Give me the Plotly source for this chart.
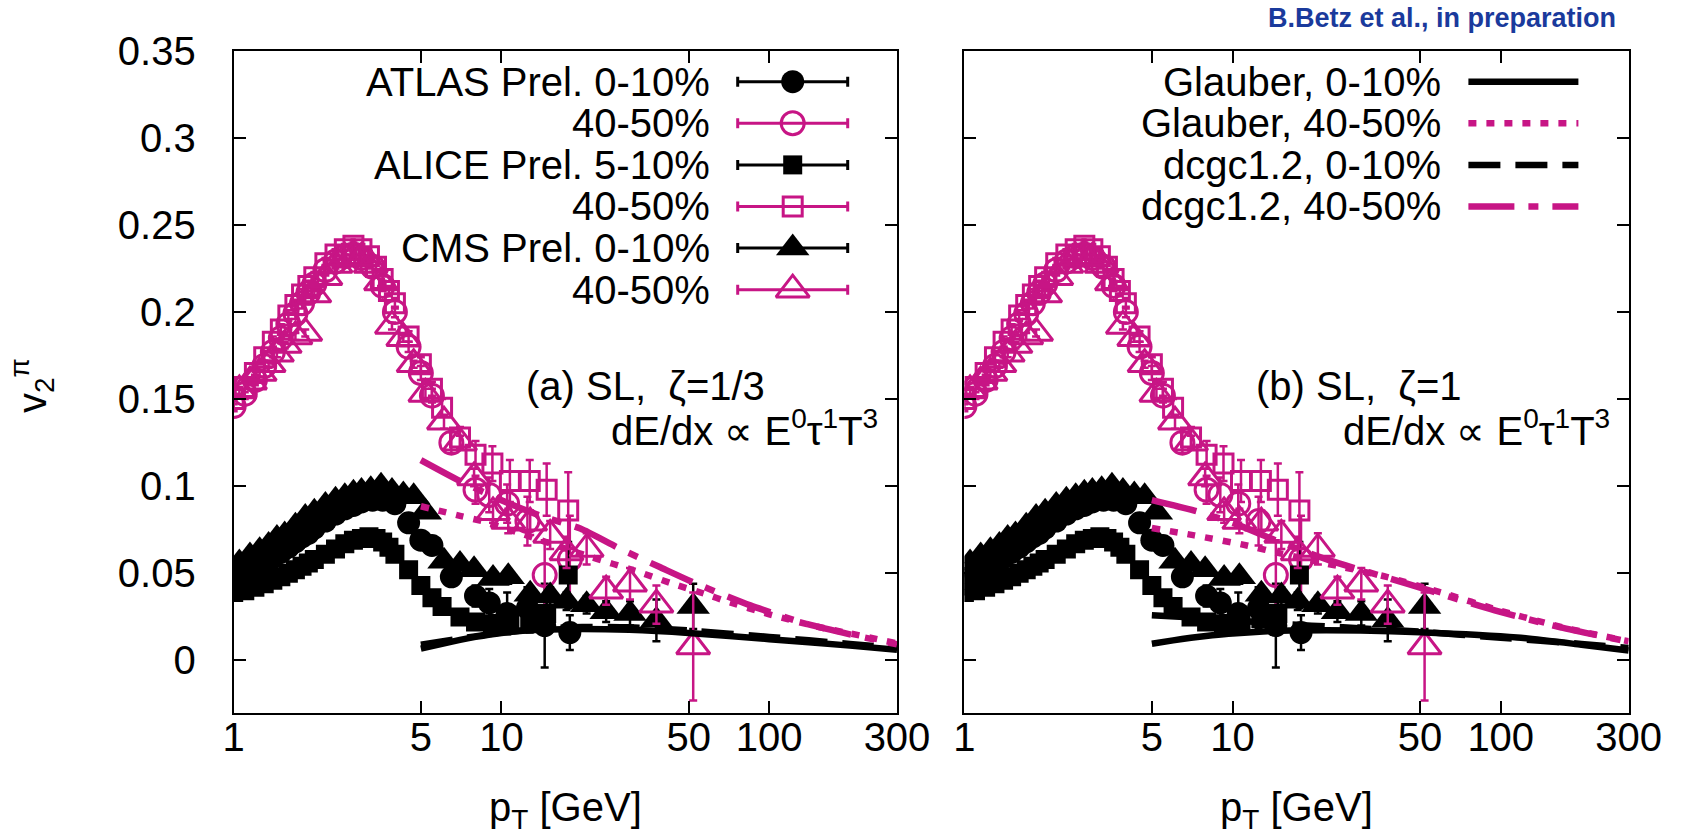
import numpy as np
import plotly.graph_objects as go

W, H = 1685, 839
MAG = "#c71585"
BLK = "#000000"
FONT = "Liberation Sans, Arial, Helvetica, sans-serif"

# ---------------- experimental data (v2 of charged pions / hadrons) ----------------
# ATLAS Prel.
atlas_pt = [1.0, 1.1, 1.2, 1.3, 1.4, 1.5, 1.6, 1.7, 1.8, 1.9, 2.0, 2.2, 2.4, 2.6, 2.8, 3.0,
            3.3, 3.6, 4.0, 4.5, 5.0, 5.5, 6.5, 8.0, 9.0, 10.5, 12.5, 14.5, 18.0]
atlas_c0_v2 = [0.047, 0.050, 0.053, 0.056, 0.059, 0.062, 0.065, 0.068, 0.071, 0.073, 0.076, 0.080,
               0.084, 0.087, 0.089, 0.091, 0.092, 0.092, 0.090, 0.079, 0.069, 0.066, 0.048, 0.037,
               0.033, 0.027, 0.030, 0.020, 0.016]
atlas_c0_err = [0.002] * 19 + [0.003, 0.003, 0.004, 0.005, 0.006, 0.008, 0.012, 0.012, 0.024, 0.010]
atlas_c4_v2 = [0.146, 0.153, 0.161, 0.169, 0.177, 0.185, 0.193, 0.199, 0.205, 0.211, 0.216, 0.224,
               0.229, 0.232, 0.233, 0.231, 0.226, 0.215, 0.200, 0.180, 0.165, 0.152, 0.125, 0.098,
               0.095, 0.090, 0.080, 0.049, 0.058]
atlas_c4_err = [0.003] * 19 + [0.003, 0.004, 0.004, 0.006, 0.008, 0.010, 0.011, 0.014, 0.020, 0.025]

# ALICE Prel.
alice_pt = [1.0, 1.1, 1.2, 1.3, 1.4, 1.5, 1.6, 1.7, 1.8, 1.9, 2.0, 2.2, 2.4, 2.6, 2.8, 3.0,
            3.2, 3.4, 3.6, 3.8, 4.0, 4.5, 5.0, 5.5, 6.0, 7.0, 8.0, 9.25, 10.75, 12.75, 14.75, 17.75]
alice_c0_v2 = [0.039, 0.040, 0.042, 0.044, 0.046, 0.048, 0.050, 0.052, 0.054, 0.056, 0.058, 0.061,
               0.064, 0.067, 0.069, 0.070, 0.071, 0.070, 0.068, 0.065, 0.061, 0.052, 0.043, 0.036,
               0.031, 0.025, 0.022, 0.021, 0.022, 0.024, 0.027, 0.049]
alice_c0_err = [0.001] * 21 + [0.002, 0.002, 0.002, 0.003, 0.003, 0.004, 0.005, 0.006, 0.008,
                               0.010, 0.019]
alice_c4_v2 = [0.150, 0.157, 0.165, 0.174, 0.183, 0.190, 0.198, 0.204, 0.210, 0.215, 0.220, 0.228,
               0.233, 0.236, 0.238, 0.236, 0.232, 0.226, 0.219, 0.212, 0.205, 0.186, 0.170, 0.156,
               0.145, 0.128, 0.118, 0.113, 0.103, 0.103, 0.098, 0.086]
alice_c4_err = [0.003] * 21 + [0.003, 0.004, 0.004, 0.005, 0.006, 0.008, 0.010, 0.012, 0.012,
                               0.015, 0.022]

# CMS Prel.
cms_pt = [1.05, 1.15, 1.25, 1.35, 1.45, 1.55, 1.7, 1.85, 2.0, 2.2, 2.4, 2.6, 2.8, 3.0, 3.25,
          3.55, 3.9, 4.3, 4.7, 5.2, 6.1, 7.0, 7.9, 9.3, 10.6, 12.8, 15.2, 17.5, 20.8, 24.6,
          30.2, 37.9, 52.0]
cms_c0_v2 = [0.056, 0.060, 0.063, 0.066, 0.070, 0.072, 0.077, 0.082, 0.085, 0.089, 0.092, 0.094,
             0.096, 0.097, 0.098, 0.100, 0.097, 0.095, 0.094, 0.085, 0.057, 0.055, 0.052, 0.047,
             0.048, 0.038, 0.037, 0.034, 0.032, 0.028, 0.027, 0.023, 0.031]
cms_c0_err = [0.001] * 19 + [0.002, 0.003, 0.003, 0.003, 0.003, 0.004, 0.004, 0.005, 0.005,
                             0.005, 0.006, 0.007, 0.012, 0.013]
cms_c4_v2 = [0.155, 0.160, 0.165, 0.170, 0.176, 0.181, 0.186, 0.188, 0.210, 0.220, 0.227, 0.231,
             0.232, 0.231, 0.227, 0.217, 0.192, 0.185, 0.170, 0.153, 0.137, 0.125, 0.105, 0.085,
             0.080, 0.079, 0.072, 0.062, 0.064, 0.040, 0.044, 0.032, 0.008]
cms_c4_err = [0.002] * 19 + [0.003, 0.004, 0.004, 0.005, 0.006, 0.007, 0.007, 0.008, 0.009,
                             0.009, 0.008, 0.009, 0.011, 0.031]

# ---------------- model curves (pT >= 5 GeV) ----------------
# panel (a): zeta = 1/3
a_glb0_pt = [5, 6, 7, 8, 10, 12, 15, 20, 30, 50, 100, 200, 300]
a_glb0_v2 = [0.0068, 0.0095, 0.0118, 0.0135, 0.0158, 0.0170, 0.0178, 0.0181, 0.0176, 0.0158,
             0.0122, 0.0085, 0.0062]
a_dc0_pt = [5, 7, 10, 15, 20, 30, 50, 100, 200, 300]
a_dc0_v2 = [0.0090, 0.0125, 0.0160, 0.0185, 0.0192, 0.0190, 0.0172, 0.0135, 0.0095, 0.0072]
a_glb4_pt = [5, 7, 8.7, 12, 20, 26, 33, 42.6, 58, 69, 100, 150, 200, 300]
a_glb4_v2 = [0.0885, 0.0830, 0.0795, 0.0725, 0.0610, 0.0555, 0.0505, 0.0445, 0.0380, 0.0340,
             0.0265, 0.0195, 0.0155, 0.0098]
a_dc4_pt = [5, 7, 10, 14, 19.7, 27.8, 39, 53.5, 85, 134, 200, 300]
a_dc4_v2 = [0.1150, 0.1030, 0.0920, 0.0830, 0.0757, 0.0640, 0.0536, 0.0440, 0.0316, 0.0215,
            0.0150, 0.0092]

# panel (b): zeta = 1
b_glb0_pt = [5, 6, 7, 8.4, 10, 13, 16.4, 30, 50, 115, 200, 300]
b_glb0_v2 = [0.0096, 0.0115, 0.0130, 0.0144, 0.0155, 0.0166, 0.0172, 0.0172, 0.0162, 0.0132,
             0.0090, 0.0057]
b_dc0_pt = [5, 8.4, 15, 25.8, 50, 100, 200, 300]
b_dc0_v2 = [0.0260, 0.0240, 0.0210, 0.0190, 0.0165, 0.0130, 0.0095, 0.0072]
b_glb4_pt = [5, 7.2, 11.3, 15.2, 25, 37.5, 60, 100, 170, 300]
b_glb4_v2 = [0.0760, 0.0718, 0.0660, 0.0613, 0.0540, 0.0480, 0.0390, 0.0285, 0.0190, 0.0110]
b_dc4_pt = [5, 7.2, 10, 15, 23, 45, 95, 167, 300]
b_dc4_v2 = [0.0920, 0.0860, 0.0790, 0.0680, 0.0574, 0.0440, 0.0287, 0.0190, 0.0108]

# tick labels
x_ticks = [1, 5, 10, 50, 100, 300]
y_ticks = [0, 0.05, 0.1, 0.15, 0.2, 0.25, 0.3, 0.35]
y_tick_text = ["0", "0.05", "0.1", "0.15", "0.2", "0.25", "0.3", "0.35"]

# ---------------- layout geometry (pixels) ----------------
PANEL_X = [(233.7, 897.0), (964.4, 1628.7)]
PANEL_Y = (50.7, 712.7)
FS = 40
LW = 6.5


def px(x):
    return x / W


def py(y):
    return 1 - y / H


fig = go.Figure()

data_sets = [
    ("ATLAS Prel. 0-10%", atlas_pt, atlas_c0_v2, atlas_c0_err, "circle", 23, BLK),
    ("40-50%", atlas_pt, atlas_c4_v2, atlas_c4_err, "circle-open", 23, MAG),
    ("ALICE Prel. 5-10%", alice_pt, alice_c0_v2, alice_c0_err, "square", 19, BLK),
    ("40-50%", alice_pt, alice_c4_v2, alice_c4_err, "square-open", 19, MAG),
    ("CMS Prel. 0-10%", cms_pt, cms_c0_v2, cms_c0_err, "triangle-up", 29, BLK),
    ("40-50%", cms_pt, cms_c4_v2, cms_c4_err, "triangle-up-open", 29, MAG),
]

curve_sets = {
    1: [("Glauber, 0-10%", a_glb0_pt, a_glb0_v2, BLK, "solid"),
        ("Glauber, 40-50%", a_glb4_pt, a_glb4_v2, MAG, "8px,10px"),
        ("dcgc1.2, 0-10%", a_dc0_pt, a_dc0_v2, BLK, "32px,15px"),
        ("dcgc1.2, 40-50%", a_dc4_pt, a_dc4_v2, MAG, "46px,14px,10px,14px")],
    2: [("Glauber, 0-10%", b_glb0_pt, b_glb0_v2, BLK, "solid"),
        ("Glauber, 40-50%", b_glb4_pt, b_glb4_v2, MAG, "8px,10px"),
        ("dcgc1.2, 0-10%", b_dc0_pt, b_dc0_v2, BLK, "32px,15px"),
        ("dcgc1.2, 40-50%", b_dc4_pt, b_dc4_v2, MAG, "46px,14px,10px,14px")],
}


def marker_style(sym, size, col):
    if sym.endswith("open"):
        return dict(symbol=sym, size=size, color=col, line=dict(color=col, width=3))
    return dict(symbol=sym, size=size, color=col, line=dict(width=0))


for k in (1, 2):
    xa, ya = ("x", "y") if k == 1 else ("x2", "y2")
    for name, xs, ys, es, sym, size, col in data_sets:
        fig.add_trace(go.Scatter(
            x=xs, y=ys, mode="markers", xaxis=xa, yaxis=ya, showlegend=False, name=name,
            marker=marker_style(sym, size, col),
            error_y=dict(type="data", array=es, visible=True, color=col, thickness=2.5, width=4),
            cliponaxis=True))
    for name, xs, ys, col, dash in curve_sets[k]:
        fig.add_trace(go.Scatter(
            x=xs, y=ys, mode="lines", xaxis=xa, yaxis=ya, showlegend=False, name=name,
            line=dict(color=col, width=LW, dash=dash, shape="spline", smoothing=0.6)))

# ---------------- keys (drawn on a pixel-space overlay axis) ----------------
ROW0, ROWSTEP = 81.7, 41.6
KEY_TEXT_DX = 478.5            # text right edge from panel left
KEY_SAMPLE = (504.0, 614.0)    # sample span from panel left
annotations = []

x0a = PANEL_X[0][0]
for i, (name, xs, ys, es, sym, size, col) in enumerate(data_sets):
    ry = ROW0 + i * ROWSTEP
    cx = x0a + (KEY_SAMPLE[0] + KEY_SAMPLE[1]) / 2
    half = (KEY_SAMPLE[1] - KEY_SAMPLE[0]) / 2
    fig.add_trace(go.Scatter(
        x=[cx], y=[ry], mode="markers", xaxis="x3", yaxis="y3", showlegend=False,
        marker=marker_style(sym, size, col),
        error_x=dict(type="data", array=[half], visible=True, color=col, thickness=3, width=5)))
    annotations.append(dict(x=px(x0a + KEY_TEXT_DX), y=py(ry), xref="paper", yref="paper",
                            text=name, showarrow=False, xanchor="right", yanchor="middle",
                            font=dict(family=FONT, size=FS, color="black")))

x0b = PANEL_X[1][0]
for i, (name, xs, ys, col, dash) in enumerate(curve_sets[2]):
    ry = ROW0 + i * ROWSTEP
    fig.add_trace(go.Scatter(
        x=[x0b + KEY_SAMPLE[0], x0b + KEY_SAMPLE[1]], y=[ry, ry], mode="lines",
        xaxis="x3", yaxis="y3", showlegend=False,
        line=dict(color=col, width=LW, dash=dash)))
    annotations.append(dict(x=px(x0b + KEY_TEXT_DX), y=py(ry), xref="paper", yref="paper",
                            text=name, showarrow=False, xanchor="right", yanchor="middle",
                            font=dict(family=FONT, size=FS, color="black")))

# ---------------- labels ----------------
lab_font = dict(family=FONT, size=FS, color="black")
for k, (zeta, tag) in enumerate([("1/3", "(a)"), ("1", "(b)")]):
    x0, x1 = PANEL_X[k]
    annotations.append(dict(x=px(x0 + 290), y=py(386), xref="paper", yref="paper",
                            text=f"{tag} SL,\u00a0\u00a0ζ={zeta}", showarrow=False,
                            xanchor="left", yanchor="middle", font=lab_font))
    annotations.append(dict(x=px(x1 - 17), y=py(428), xref="paper", yref="paper",
                            text="dE/dx ∝ E<sup>0</sup>τ<sup>1</sup>T<sup>3</sup>",
                            showarrow=False, xanchor="right", yanchor="middle", font=lab_font))
    annotations.append(dict(x=px((x0 + x1) / 2), y=py(810), xref="paper", yref="paper",
                            text="p<sub>T</sub> [GeV]", showarrow=False,
                            xanchor="center", yanchor="middle", font=lab_font))

annotations.append(dict(x=px(32), y=py(386), xref="paper", yref="paper",
                        text="v<sub>2</sub><sup>π</sup>", textangle=-90, showarrow=False,
                        xanchor="center", yanchor="middle", font=lab_font))
annotations.append(dict(x=px(1266), y=py(18), xref="paper", yref="paper",
                        text="<b>B.Betz et al., in preparation</b>", showarrow=False,
                        xanchor="left", yanchor="middle",
                        font=dict(family=FONT, size=27, color="#1a3a9c")))

# ---------------- axes ----------------
def xaxis_cfg(k):
    x0, x1 = PANEL_X[k]
    return dict(domain=[px(x0), px(x1)], type="log", range=[0, np.log10(300)],
                tickvals=x_ticks, ticktext=[str(t) for t in x_ticks],
                ticks="inside", ticklen=12, tickwidth=2, tickcolor="black",
                showline=True, linewidth=2, linecolor="black", mirror="ticks",
                showgrid=False, zeroline=False, ticklabelstandoff=-12,
                tickfont=dict(family=FONT, size=FS, color="black"),
                anchor="y" if k == 0 else "y2", fixedrange=True)


def yaxis_cfg(k):
    return dict(domain=[py(PANEL_Y[1]), py(PANEL_Y[0])], range=[-0.03, 0.35],
                tickvals=y_ticks, ticktext=y_tick_text, showticklabels=(k == 0),
                ticks="inside", ticklen=12, tickwidth=2, tickcolor="black",
                showline=True, linewidth=2, linecolor="black", mirror="ticks",
                showgrid=False, zeroline=False, ticklabelstandoff=28,
                tickfont=dict(family=FONT, size=FS, color="black"),
                anchor="x" if k == 0 else "x2", fixedrange=True)


fig.update_layout(
    width=W, height=H, margin=dict(l=0, r=0, t=0, b=0, autoexpand=False),
    paper_bgcolor="white", plot_bgcolor="rgba(0,0,0,0)",
    xaxis=xaxis_cfg(0), yaxis=yaxis_cfg(0),
    xaxis2=xaxis_cfg(1), yaxis2=yaxis_cfg(1),
    xaxis3=dict(domain=[0, 1], range=[0, W], visible=False, anchor="y3", fixedrange=True),
    yaxis3=dict(domain=[0, 1], range=[H, 0], visible=False, anchor="x3", fixedrange=True),
    annotations=annotations, showlegend=False,
)

fig.write_html("out.html")
